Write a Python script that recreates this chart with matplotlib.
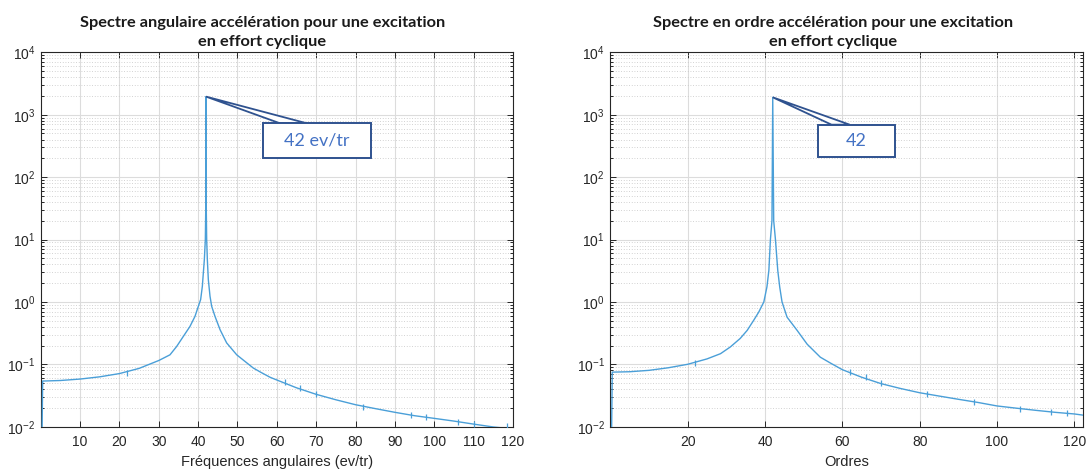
import numpy as np
import matplotlib
matplotlib.use("Agg")
import matplotlib.pyplot as plt
from matplotlib.patches import Polygon, Rectangle
from matplotlib.ticker import FixedLocator, NullFormatter, LogFormatterSciNotation

plt.rcParams["font.family"] = ["Liberation Sans", "DejaVu Sans"]
plt.rcParams["mathtext.default"] = "regular"

# ---------------- data ----------------
freq_x = [0, 0.5, 1, 5, 10, 15, 20, 25, 30, 32.85, 34.54, 36.24, 37.93, 39.2,
          40.05, 40.64, 41.07, 41.32, 41.58, 41.75, 41.83, 41.92, 42,
          42.08, 42.17, 42.34, 42.59, 43.02, 43.44, 44.29, 45.56, 47.25, 49.8,
          52, 54.03, 56, 58.27, 60, 65, 70, 75, 80, 85, 90, 95, 100, 105, 110,
          115, 120]
freq_y = [1e-4, 0.054, 0.054, 0.055, 0.058, 0.063, 0.071, 0.086, 0.115, 0.142,
          0.193, 0.28, 0.405, 0.586, 0.85, 1.09, 1.78, 2.91, 4.77, 7.8, 10, 27,
          1950, 27, 10, 4.77, 2.28, 1.23, 0.85, 0.586, 0.36, 0.22, 0.142,
          0.11, 0.087, 0.074, 0.062, 0.056, 0.042, 0.033, 0.027, 0.0225,
          0.0195, 0.017, 0.015, 0.0136, 0.0123, 0.011, 0.0099, 0.0092]
freq_spike_x = [22, 62, 66, 70, 82, 94, 98, 106, 110, 118.6]
freq_spike_y = [0.073, 0.052, 0.041, 0.033, 0.021, 0.0155, 0.0145, 0.012, 0.011, 0.0103]

ord_x = [0, 0.5, 1, 5, 10, 15, 20, 25, 28.5, 31.05, 33.6, 35.4, 37.1, 38.4,
         39.7, 40.5, 41.0, 41.4, 41.8, 42, 42.25, 42.7, 43.3, 43.8, 44.4,
         45.7, 48.3, 50.9, 54.3, 57, 60, 65, 70, 75, 80, 85, 90, 95, 100, 105,
         110, 115, 120, 122.3]
ord_y = [1e-4, 0.075, 0.075, 0.076, 0.08, 0.088, 0.1, 0.122, 0.148, 0.19,
         0.26, 0.35, 0.51, 0.69, 1.0, 1.74, 3.2, 10, 20, 1900, 20, 10, 3.2,
         1.74, 1.0, 0.57, 0.35, 0.21, 0.13, 0.104, 0.082, 0.062, 0.049,
         0.041, 0.035, 0.031, 0.0275, 0.0245, 0.0215, 0.0198, 0.0183, 0.017,
         0.016, 0.0153]
ord_spike_x = [22, 62, 66, 70, 82, 94, 106, 114, 118]
ord_spike_y = [0.104, 0.076, 0.062, 0.05, 0.033, 0.025, 0.0195, 0.0175, 0.0168]

freq_xticks = [10, 20, 30, 40, 50, 60, 70, 80, 90, 100, 110, 120]
ord_xticks = [20, 40, 60, 80, 100, 120]
y_ticks = [1e-2, 1e-1, 1e0, 1e1, 1e2, 1e3, 1e4]
freq_xlim = (0, 120)
ord_xlim = (0, 122.3)
y_lim = (1e-2, 1e4)

titles = ["Spectre angulaire accélération pour une excitation\nen effort cyclique",
          "Spectre en ordre accélération pour une excitation\nen effort cyclique"]
xlabels = ["Fréquences angulaires (ev/tr)", "Ordres"]
peak_x = [42, 42]
peak_y = [1950, 1900]
callout_texts = ["42 ev/tr", "42"]

# ---------------- style ----------------
W, H = 1088, 473
DPI = 100
fig = plt.figure(figsize=(W / DPI, H / DPI), dpi=DPI)
fig.patch.set_facecolor("white")

AX_COL = "#262626"
LINE_COL = "#4a9fd8"
BOX_EDGE = "#2F528F"
TXT_BLUE = "#4472C4"

def px_rect(x0, x1, ytop, ybot):
    return [x0 / W, 1 - ybot / H, (x1 - x0) / W, (ybot - ytop) / H]

axL = fig.add_axes(px_rect(40.7, 513.0, 52.3, 426.7))
axR = fig.add_axes(px_rect(610.3, 1083.3, 52.3, 426.7))

# callout geometry (data coords): box x0, x1, y_bottom, y_top, base x0, base x1
callouts = [
    (56.4, 83.9, 205, 728, 60.8, 67.6),
    (53.6, 73.6, 208, 692, 57.2, 61.9),
]
title_centers = [262.3, 833.0]

series = [(freq_x, freq_y, freq_spike_x, freq_spike_y, freq_xticks, freq_xlim),
          (ord_x, ord_y, ord_spike_x, ord_spike_y, ord_xticks, ord_xlim)]

for i, ax in enumerate([axL, axR]):
    xs, ys, sx, sy, xt, xl = series[i]
    ax.plot(xs, ys, color=LINE_COL, lw=1.0, zorder=3)
    ax.plot(sx, sy, linestyle="none", marker="|", markersize=5,
            markeredgewidth=0.9, color=LINE_COL, zorder=3)
    ax.set_yscale("log")
    ax.set_xlim(*xl)
    ax.set_ylim(*y_lim)
    ax.xaxis.set_major_locator(FixedLocator(xt))
    ax.yaxis.set_major_locator(FixedLocator(y_ticks))
    ax.yaxis.set_major_formatter(LogFormatterSciNotation())
    minor = [m * 10.0 ** e for e in range(-2, 4) for m in range(2, 10)]
    ax.yaxis.set_minor_locator(FixedLocator(minor))
    ax.yaxis.set_minor_formatter(NullFormatter())
    ax.grid(True, which="major", color="#dcdcdc", lw=0.8, ls="-", zorder=0)
    ax.grid(True, which="minor", axis="y", color="#c4c4c4", lw=0.6, ls=(0, (1, 2.2)), zorder=0)
    ax.set_axisbelow(True)
    for s in ax.spines.values():
        s.set_color(AX_COL)
        s.set_linewidth(0.8)
    ax.tick_params(which="both", direction="in", top=True, right=True,
                   colors=AX_COL, labelcolor=AX_COL, width=0.7)
    ax.tick_params(which="major", length=4.5, labelsize=10)
    ax.tick_params(which="minor", length=2.5)
    ax.tick_params(axis="x", pad=6)
    ax.tick_params(axis="y", pad=4)
    ax.set_xlabel(xlabels[i], fontsize=10.5, color=AX_COL)
    ax.xaxis.set_label_coords(0.5, -(461.7 - 426.7) / 374.4)
    ax.xaxis.label.set_va("center")

    # callout
    bx0, bx1, by0, by1, c0, c1 = callouts[i]
    tri = Polygon([(peak_x[i], peak_y[i]), (c0, by1), (c1, by1)], closed=True,
                  facecolor="white", edgecolor=BOX_EDGE, lw=1.3, zorder=5,
                  joinstyle="miter")
    ax.add_patch(tri)
    box = Rectangle((bx0, by0), bx1 - bx0, by1 - by0, facecolor="white",
                    edgecolor=BOX_EDGE, lw=1.4, zorder=6)
    ax.add_patch(box)
    ax.text((bx0 + bx1) / 2, np.sqrt(by0 * by1), callout_texts[i],
            ha="center", va="center", color=TXT_BLUE, fontsize=13,
            family="Lato", zorder=7)

    fig.text(title_centers[i] / W, 1 - 32.2 / H, titles[i], ha="center",
             va="center", fontsize=11.8, fontweight="bold", family="Lato",
             color="#1a1a1a", linespacing=1.45)

fig.savefig("out.png", dpi=DPI, facecolor="white")
